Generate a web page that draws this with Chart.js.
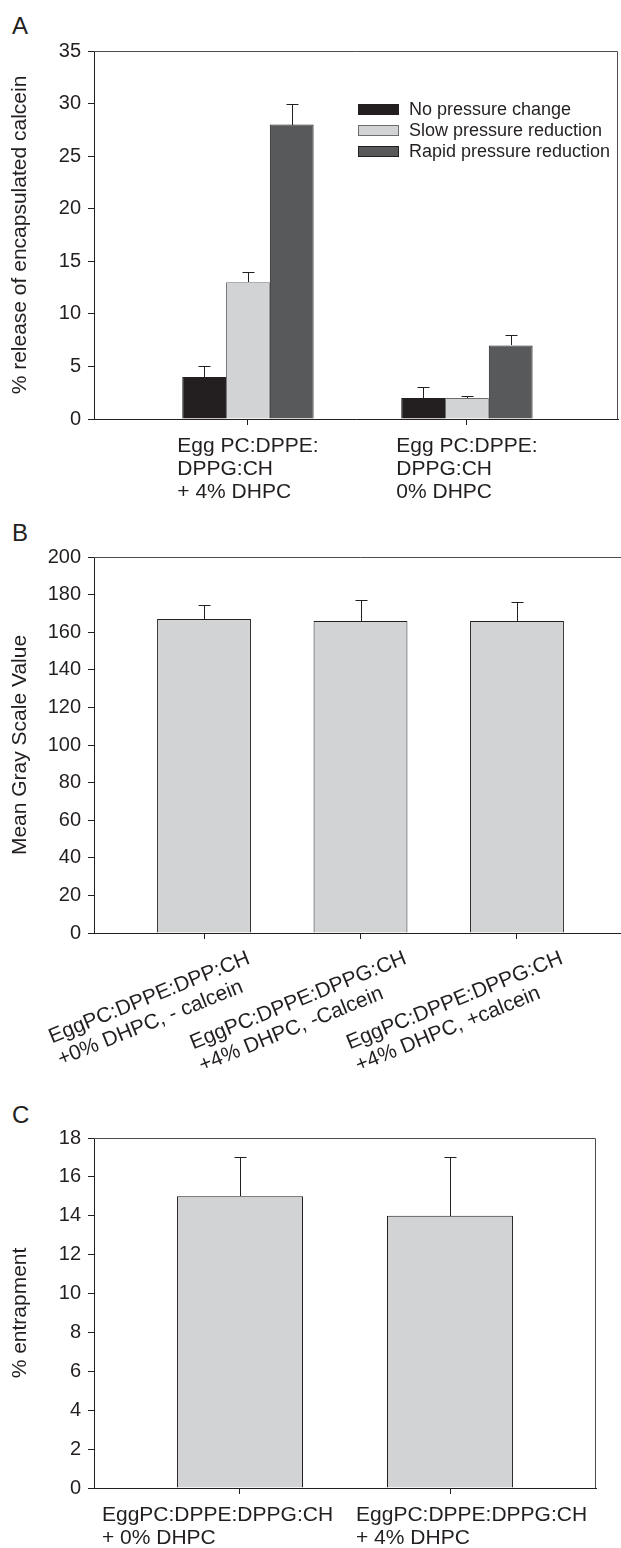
<!DOCTYPE html>
<html>
<head>
<meta charset="utf-8">
<script src="https://cdn.jsdelivr.net/npm/chart.js@4/dist/chart.umd.min.js"></script>
<style>
  html, body { margin: 0; padding: 0; background: #ffffff; overflow: hidden; }
  #wrap { position: relative; width: 621px; height: 1548px; overflow: hidden; }
  canvas { position: absolute; left: 0; }
  .letter { position: absolute; left: 12px; font: 24px "Liberation Sans", Arial, sans-serif; line-height: 24px; color: #231f20; }
</style>
</head>
<body>
<div id="wrap">
  <div class="letter" style="top:14px">A</div>
  <div class="letter" style="top:521px">B</div>
  <div class="letter" style="top:1103px">C</div>
  <canvas id="cA" width="621" height="515" style="top:0px"></canvas>
  <canvas id="cB" width="640" height="560" style="top:515px"></canvas>
  <canvas id="cC" width="621" height="473" style="top:1075px"></canvas>
</div>
<script>
// ---------------- DATA ----------------
// Panel A
const catsA = [["Egg PC:DPPE:", "DPPG:CH", "+ 4% DHPC"], ["Egg PC:DPPE:", "DPPG:CH", "0% DHPC"]];
const seriesNamesA = ["No pressure change", "Slow pressure reduction", "Rapid pressure reduction"];
const noChangeA = [4, 2];
const noChangeErrA = [1, 1];
const slowA = [13, 2];
const slowErrA = [1, 0.2];
const rapidA = [28, 7];
const rapidErrA = [2, 1];
const yTicksA = { min: 0, max: 35, step: 5 };
const yTitleA = "% release of encapsulated calcein";

// Panel B
const catsB = [["EggPC:DPPE:DPP:CH", "+0% DHPC, - calcein"], ["EggPC:DPPE:DPPG:CH", "+4% DHPC, -Calcein"], ["EggPC:DPPE:DPPG:CH", "+4% DHPC, +calcein"]];
const grayB = [167, 166, 166];
const grayErrB = [7.5, 11, 10];
const yTicksB = { min: 0, max: 200, step: 20 };
const yTitleB = "Mean Gray Scale Value";

// Panel C
const catsC = [["EggPC:DPPE:DPPG:CH", "+ 0% DHPC"], ["EggPC:DPPE:DPPG:CH", "+ 4% DHPC"]];
const entrapC = [15, 14];
const entrapErrC = [2, 3];
const yTicksC = { min: 0, max: 18, step: 2 };
const yTitleC = "% entrapment";

// ---------------- STYLE ----------------
const INK = "#231f20";
const FONT = "'Liberation Sans', Arial, sans-serif";
Chart.defaults.font.family = FONT;
Chart.defaults.color = INK;

function toXY(vals) { return vals.map((v, i) => ({ x: i + 1, y: v })); }

const errorBarPlugin = {
  id: 'errbars',
  afterDatasetsDraw(chart) {
    const ctx = chart.ctx, ys = chart.scales.y;
    ctx.save();
    ctx.strokeStyle = INK; ctx.lineWidth = 1;
    chart.data.datasets.forEach((ds, di) => {
      if (!ds.errors) return;
      const meta = chart.getDatasetMeta(di);
      meta.data.forEach((bar, i) => {
        const v = ds.data[i].y, e = ds.errors[i];
        const top = Math.round(ys.getPixelForValue(v + e)) + 0.5;
        const x = Math.round(bar.x) + 0.5;
        ctx.beginPath();
        ctx.moveTo(x, Math.round(bar.y));
        ctx.lineTo(x, top);
        ctx.moveTo(x - 6, top);
        ctx.lineTo(x + 6, top);
        ctx.stroke();
      });
    });
    ctx.restore();
  }
};

function framePlugin(drawRight) {
  return {
    id: 'frame',
    afterDraw(chart) {
      const { left, right, top, bottom } = chart.chartArea;
      const ctx = chart.ctx;
      ctx.save();
      ctx.strokeStyle = "#4d4d4f"; ctx.lineWidth = 1;
      ctx.beginPath();
      const t = Math.round(top) + 0.5, r = Math.round(right) - 0.5;
      ctx.moveTo(left, t); ctx.lineTo(r, t);
      if (drawRight) { ctx.lineTo(r, bottom); }
      ctx.stroke();
      ctx.restore();
    }
  };
}

function labelPlugin(labels, cfg) {
  return {
    id: 'catlabels',
    afterDraw(chart) {
      const ctx = chart.ctx, xs = chart.scales.x, yb = chart.chartArea.bottom;
      ctx.save();
      ctx.font = cfg.font; ctx.fillStyle = INK;
      ctx.textAlign = 'left'; ctx.textBaseline = 'alphabetic';
      labels.forEach((lines, i) => {
        const px = xs.getPixelForValue(i + 1);
        const dx = Array.isArray(cfg.dx) ? cfg.dx[i] : cfg.dx;
        const maxW = Math.max(...lines.map(l => ctx.measureText(l).width));
        ctx.save();
        ctx.translate(px + dx, yb + cfg.dy);
        ctx.rotate(-cfg.angle * Math.PI / 180);
        lines.forEach((l, j) => ctx.fillText(l, -maxW * cfg.anchor, j * cfg.lineHeight));
        ctx.restore();
      });
      ctx.restore();
    }
  };
}

function legendPlugin(cfg) {
  return {
    id: 'insideLegend',
    afterDraw(chart) {
      const ctx = chart.ctx;
      ctx.save();
      ctx.font = cfg.font; ctx.textAlign = 'left'; ctx.textBaseline = 'middle';
      chart.data.datasets.forEach((ds, i) => {
        const cy = cfg.y + i * cfg.rowH;
        ctx.fillStyle = ds.backgroundColor;
        ctx.fillRect(cfg.x, cy - 5, 40, 10);
        ctx.strokeStyle = ds.borderColor; ctx.lineWidth = 1;
        ctx.strokeRect(cfg.x + 0.5, cy - 5 + 0.5, 40, 10);
        ctx.fillStyle = INK;
        ctx.fillText(ds.label, cfg.x + 51, cy + 1);
      });
      ctx.restore();
    }
  };
}

function makeChart(id, opts) {
  const nCats = opts.cats.length;
  return new Chart(document.getElementById(id), {
    type: 'bar',
    data: { datasets: opts.datasets },
    options: {
      responsive: false,
      animation: false,
      devicePixelRatio: 1,
      layout: { padding: { top: opts.padTop, right: opts.padRight, left: 0, bottom: 0 } },
      plugins: { legend: { display: false }, tooltip: { enabled: false } },
      datasets: { bar: { categoryPercentage: 0.6, barPercentage: 1.0, borderWidth: 1, borderSkipped: 'start' } },
      scales: {
        x: {
          type: 'linear',
          min: opts.xMin, max: opts.xMax,
          offset: false,
          afterBuildTicks(scale) { scale.ticks = opts.cats.map((_, i) => ({ value: i + 1 })); },
          afterFit(scale) { scale.height = opts.xHeight; },
          ticks: { display: false },
          grid: { drawOnChartArea: false, drawTicks: true, tickLength: 6, color: INK, offset: false },
          border: { display: true, color: INK, width: 1 }
        },
        y: {
          min: opts.yTicks.min, max: opts.yTicks.max,
          afterFit(scale) { scale.width = 94; },
          ticks: { stepSize: opts.yTicks.step, font: { size: 20 }, color: INK, padding: 7 },
          grid: { drawOnChartArea: false, drawTicks: true, tickLength: 6, color: INK },
          border: { display: true, color: INK, width: 1 },
          title: { display: true, text: opts.yTitle, font: { size: 21 }, color: INK, padding: { top: 8, bottom: 0 } }
        }
      }
    },
    plugins: opts.plugins
  });
}

// Panel A
makeChart('cA', {
  cats: catsA,
  datasets: [
    { label: seriesNamesA[0], data: toXY(noChangeA), errors: noChangeErrA, backgroundColor: '#231f20', borderColor: '#231f20' },
    { label: seriesNamesA[1], data: toXY(slowA), errors: slowErrA, backgroundColor: '#d1d3d4', borderColor: '#6d6e71' },
    { label: seriesNamesA[2], data: toXY(rapidA), errors: rapidErrA, backgroundColor: '#58595b', borderColor: '#231f20' }
  ],
  xMin: 0.297, xMax: 2.69, xHeight: 96, padTop: 51, padRight: 3,
  yTicks: yTicksA, yTitle: yTitleA,
  plugins: [errorBarPlugin, framePlugin(true),
    labelPlugin(catsA, { font: "21px " + FONT, dx: 0, dy: 33, angle: 0, anchor: 0.5, lineHeight: 23 }),
    legendPlugin({ font: "18px " + FONT, x: 358, y: 109, rowH: 21 })]
});

// Panel B
makeChart('cB', {
  cats: catsB,
  datasets: [
    { label: 'Mean Gray Scale Value', data: toXY(grayB), errors: grayErrB, backgroundColor: '#d1d3d4', borderColor: '#231f20' }
  ],
  xMin: 0.297, xMax: 3.703, xHeight: 142, padTop: 42, padRight: 13,
  yTicks: yTicksB, yTitle: yTitleB,
  plugins: [errorBarPlugin, framePlugin(true),
    labelPlugin(catsB, { font: "21px " + FONT, dx: 47, dy: 30, angle: 22, anchor: 1, lineHeight: 24 })]
});

// Panel C
makeChart('cC', {
  cats: catsC,
  datasets: [
    { label: '% entrapment', data: toXY(entrapC), errors: entrapErrC, backgroundColor: '#d1d3d4', borderColor: '#231f20' }
  ],
  xMin: 0.305, xMax: 2.695, xHeight: 60, padTop: 63, padRight: 25,
  yTicks: yTicksC, yTitle: yTitleC,
  plugins: [errorBarPlugin, framePlugin(true),
    labelPlugin(catsC, { font: "21px " + FONT, dx: [-138, -94], dy: 33, angle: 0, anchor: 0, lineHeight: 23 })]
});
</script>
</body>
</html>
